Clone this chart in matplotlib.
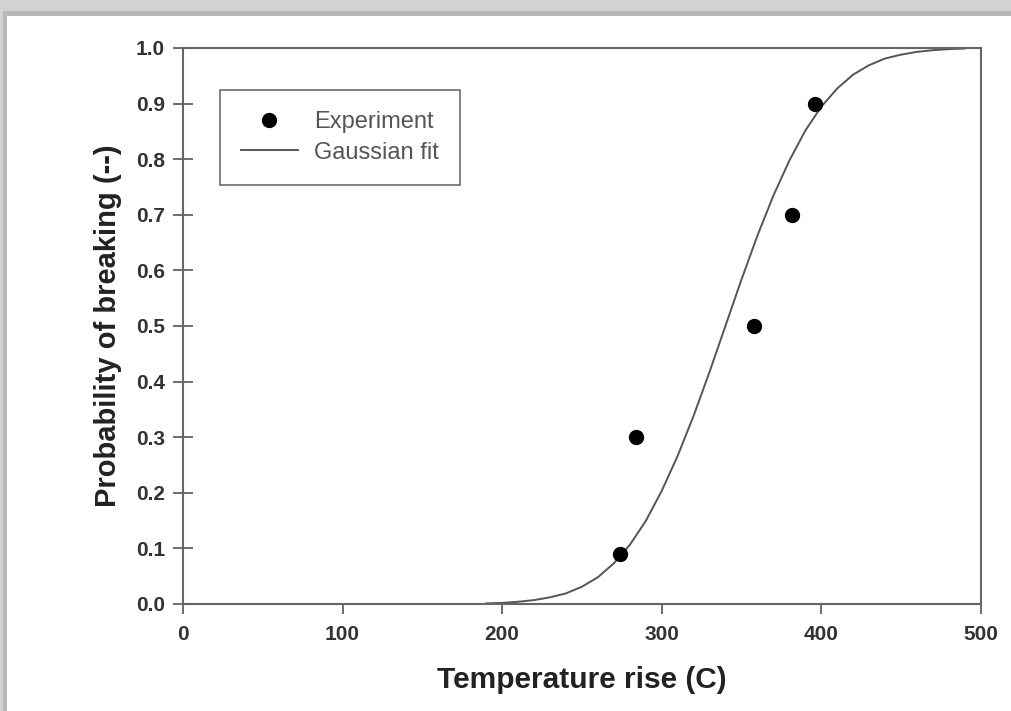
import matplotlib
matplotlib.use("Agg")
import matplotlib.pyplot as plt
from matplotlib.patches import Rectangle

# experiment points
exp_temp = [274, 284, 358, 382, 396]
exp_prob = [0.09, 0.30, 0.50, 0.70, 0.90]

# gaussian fit curve
fit_temp = [190, 200, 210, 220, 230, 240, 250, 260, 270, 280, 290, 300, 310,
            320, 330, 340, 350, 360, 370, 380, 390, 400, 410, 420, 430, 440,
            450, 460, 470, 480, 490]
fit_prob = [0.001, 0.002, 0.004, 0.007, 0.012, 0.019, 0.031, 0.048, 0.073,
            0.106, 0.149, 0.203, 0.266, 0.338, 0.417, 0.500, 0.583, 0.662,
            0.734, 0.797, 0.851, 0.894, 0.927, 0.952, 0.969, 0.981, 0.988,
            0.993, 0.996, 0.998, 0.999]

x_ticks = [0, 100, 200, 300, 400, 500]
y_ticks = [0.0, 0.1, 0.2, 0.3, 0.4, 0.5, 0.6, 0.7, 0.8, 0.9, 1.0]

plt.rcParams['font.family'] = ['Liberation Sans', 'DejaVu Sans']

fig = plt.figure(figsize=(10.11, 7.11), dpi=100)
fig.patch.set_facecolor('#d2d2d2')
# card with shadow
fig.patches.append(Rectangle((0.003, 0.0), 1.0, 0.984, transform=fig.transFigure,
                             facecolor='#b8b8b8', edgecolor='none', zorder=-10))
fig.patches.append(Rectangle((0.007, 0.0), 1.0, 0.977, transform=fig.transFigure,
                             facecolor='white', edgecolor='none', zorder=-9))

ax = fig.add_axes([0.181, 0.1505, 0.789, 0.782])
ax.set_zorder(1)
ax.set_facecolor('white')

ax.plot(fit_temp, fit_prob, color='#555555', lw=1.4, label='Gaussian fit', zorder=2)
ax.plot(exp_temp, exp_prob, 'o', color='black', ms=10, label='Experiment', zorder=3)

ax.set_xlim(0, 500)
ax.set_ylim(0, 1.0)
ax.set_xticks(x_ticks)
ax.set_yticks(y_ticks)
ax.set_xticklabels([str(v) for v in x_ticks], fontweight='bold', fontsize=15, color='#333333')
ax.set_yticklabels(['%.1f' % v for v in y_ticks], fontweight='bold', fontsize=15, color='#333333')
ax.tick_params(axis='x', direction='out', length=7, width=1.2, color='#555555', pad=8)
ax.tick_params(axis='y', direction='inout', length=14, width=1.2, color='#555555', pad=6)

for s in ax.spines.values():
    s.set_color('#666666')
    s.set_linewidth(1.5)

ax.set_xlabel('Temperature rise (C)', fontsize=21.5, fontweight='bold', color='#222222', labelpad=16)
ax.set_ylabel('Probability of breaking (--)', fontsize=21, fontweight='bold', color='#222222', labelpad=10)

handles, labels = ax.get_legend_handles_labels()
leg = ax.legend(handles[::-1], labels[::-1], loc='upper left', bbox_to_anchor=(0.046, 0.924),
                fontsize=17, frameon=True, fancybox=False, handlelength=2.4,
                borderpad=0.9, labelspacing=0.35, handletextpad=0.7, borderaxespad=0)
leg.get_frame().set_edgecolor('#555555')
leg.get_frame().set_linewidth(1.3)
for t in leg.get_texts():
    t.set_color('#555555')

fig.savefig('out.png', dpi=100, facecolor=fig.get_facecolor())
